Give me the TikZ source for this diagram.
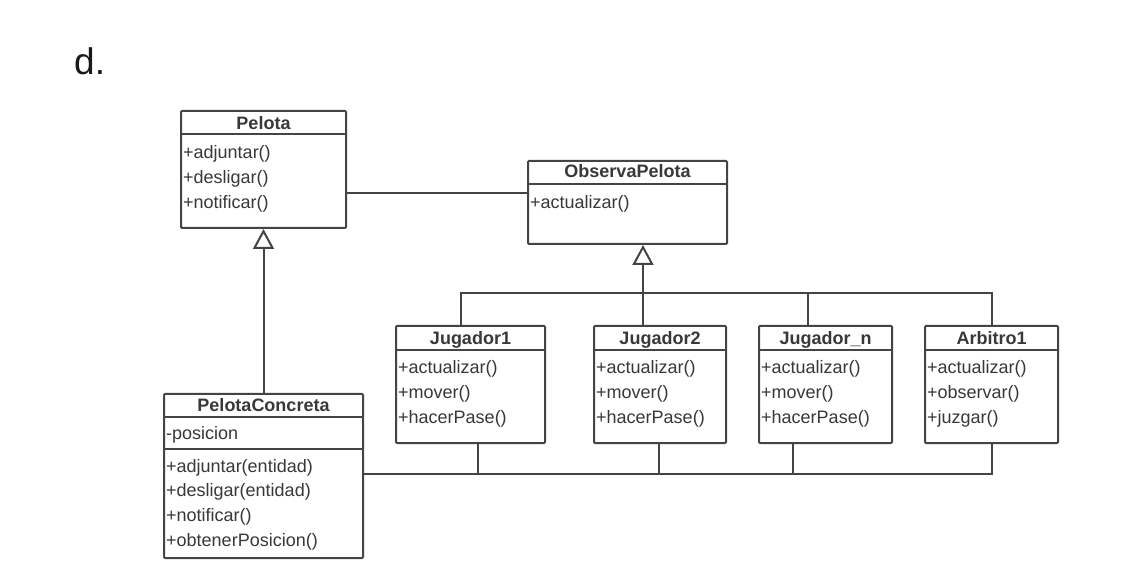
\documentclass[tikz,border=0pt]{standalone}
\usepackage{fontspec}
\setmainfont{Liberation Sans}
\usetikzlibrary{arrows.meta,calc}
\definecolor{ln}{HTML}{444444}
\definecolor{tx}{HTML}{383838}
\begin{document}
\begin{tikzpicture}[x=1pt,y=-1pt,
  cls/.style={draw=ln, line width=2pt, rectangle, rounded corners=1pt, inner sep=0pt, anchor=north west, fill=white},
  ttl/.style={font=\fontsize{18}{20}\selectfont\bfseries, text=tx, inner sep=0pt, anchor=base},
  mem/.style={font=\fontsize{18}{20}\selectfont, text=tx, inner sep=0pt, anchor=base west},
  sep/.style={draw=ln, line width=2pt},
  wire/.style={draw=ln, line width=2pt},
  gen/.style={wire, -{Triangle[open, width=21pt, length=20pt]}}
]
\useasboundingbox (0,0) rectangle (1136,569);
\fill[white] (0,0) rectangle (1136,569);

\node[font=\fontsize{37}{40}\selectfont, anchor=base west, inner sep=0pt, text=black!90] (lbl) at (74,75) {d.};

% Pelota
\node[cls, minimum width=165pt, minimum height=117pt] (P) at (180,110) {};
\node[ttl] (Pt) at (P.north |- 0,130) {Pelota};
\draw[sep] (P.west |- 0,134) -- (P.east |- 0,134);
\node[mem] (P1) at ($(P.west |- 0,159)+(3,0)$) {+adjuntar()};
\node[mem] (P2) at ($(P.west |- 0,184)+(3,0)$) {+desligar()};
\node[mem] (P3) at ($(P.west |- 0,209)+(3,0)$) {+notificar()};

% ObservaPelota
\node[cls, minimum width=199pt, minimum height=83pt] (O) at (527,160) {};
\node[ttl] (Ot) at (O.north |- 0,178) {ObservaPelota};
\draw[sep] (O.west |- 0,184) -- (O.east |- 0,184);
\node[mem] (O1) at ($(O.west |- 0,209)+(3,0)$) {+actualizar()};

% PelotaConcreta
\node[cls, minimum width=199pt, minimum height=164pt] (PC) at (163,393) {};
\node[ttl] (PCt) at (PC.north |- 0,412) {PelotaConcreta};
\draw[sep] (PC.west |- 0,417) -- (PC.east |- 0,417);
\node[mem] (PCa) at ($(PC.west |- 0,439)+(3,0)$) {-posicion};
\draw[sep] (PC.west |- 0,449) -- (PC.east |- 0,449);
\node[mem] (PC1) at ($(PC.west |- 0,472)+(3,0)$) {+adjuntar(entidad)};
\node[mem] (PC2) at ($(PC.west |- 0,496)+(3,0)$) {+desligar(entidad)};
\node[mem] (PC3) at ($(PC.west |- 0,521)+(3,0)$) {+notificar()};
\node[mem] (PC4) at ($(PC.west |- 0,546)+(3,0)$) {+obtenerPosicion()};

% Jugador1
\node[cls, minimum width=149pt, minimum height=117pt] (J1) at (395,325) {};
\node[ttl] (J1t) at (J1.north |- 0,345) {Jugador1};
\draw[sep] (J1.west |- 0,350) -- (J1.east |- 0,350);
\node[mem] (J11) at ($(J1.west |- 0,374)+(3,0)$) {+actualizar()};
\node[mem] (J12) at ($(J1.west |- 0,399)+(3,0)$) {+mover()};
\node[mem] (J13) at ($(J1.west |- 0,424)+(3,0)$) {+hacerPase()};

% Jugador2
\node[cls, minimum width=132pt, minimum height=117pt] (J2) at (593,325) {};
\node[ttl] (J2t) at (J2.north |- 0,345) {Jugador2};
\draw[sep] (J2.west |- 0,350) -- (J2.east |- 0,350);
\node[mem] (J21) at ($(J2.west |- 0,374)+(3,0)$) {+actualizar()};
\node[mem] (J22) at ($(J2.west |- 0,399)+(3,0)$) {+mover()};
\node[mem] (J23) at ($(J2.west |- 0,424)+(3,0)$) {+hacerPase()};

% Jugador_n
\node[cls, minimum width=133pt, minimum height=117pt] (Jn) at (758,325) {};
\node[ttl] (Jnt) at (Jn.north |- 0,345) {Jugador\_n};
\draw[sep] (Jn.west |- 0,350) -- (Jn.east |- 0,350);
\node[mem] (Jn1) at ($(Jn.west |- 0,374)+(3,0)$) {+actualizar()};
\node[mem] (Jn2) at ($(Jn.west |- 0,399)+(3,0)$) {+mover()};
\node[mem] (Jn3) at ($(Jn.west |- 0,424)+(3,0)$) {+hacerPase()};

% Arbitro1
\node[cls, minimum width=133pt, minimum height=117pt] (A) at (924,325) {};
\node[ttl] (At) at (A.north |- 0,345) {Arbitro1};
\draw[sep] (A.west |- 0,350) -- (A.east |- 0,350);
\node[mem] (A1) at ($(A.west |- 0,374)+(3,0)$) {+actualizar()};
\node[mem] (A2) at ($(A.west |- 0,399)+(3,0)$) {+observar()};
\node[mem] (A3) at ($(A.west |- 0,424)+(3,0)$) {+juzgar()};

% association Pelota -- ObservaPelota
\draw[wire] (P.east |- 0,193) -- (O.west |- 0,193);

% generalization PelotaConcreta -> Pelota
\draw[gen] (PC.north) -- (P.south);

% generalization bus -> ObservaPelota
\coordinate (busT) at (0,293);
\draw[wire] (J1.north -| 461,0) |- (busT -| A.north) -- (A.north);
\draw[wire] (Jn.north -| 808,0) -- (busT -| 808,0);
\draw[gen] (J2.north -| 643,0) -- (O.south -| 643,0);

% bottom bus to PelotaConcreta
\coordinate (busB) at (0,474);
\draw[wire] (PC.east |- busB) -| (A.south);
\draw[wire] (J1.south -| 478,0) -- (busB -| 478,0);
\draw[wire] (J2.south -| 659,0) -- (busB -| 659,0);
\draw[wire] (Jn.south -| 793,0) -- (busB -| 793,0);
\end{tikzpicture}
\end{document}
